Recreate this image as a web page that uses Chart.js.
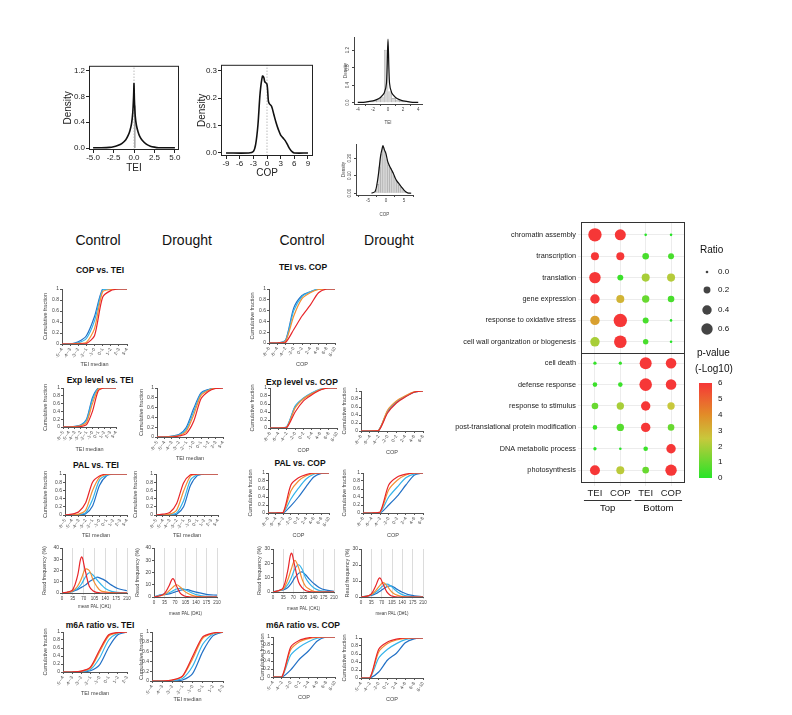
<!DOCTYPE html>
<html>
<head>
<meta charset="utf-8">
<script src="https://cdn.jsdelivr.net/npm/chart.js@4.4.1/dist/chart.umd.min.js"></script>
<style>
body { margin:0; background:#fff; width:792px; height:715px; position:relative; overflow:hidden; font-family:"Liberation Sans", Arial, sans-serif; }
.lbl { position:absolute; white-space:nowrap; transform:translate(-50%,-50%); color:#111; }
.hd { font-size:14px; }
.tt { font-size:8.5px; font-weight:bold; }
</style>
</head>
<body>
<script>
// ---- data ----

// density panels
const teiDensX = [-5, -4, -3, -2.5, -2, -1.5, -1, -0.7, -0.5, -0.3, -0.15, -0.05, 0, 0.05, 0.15, 0.3, 0.5, 0.7, 1, 1.5, 2, 2.5, 3, 4, 5];
const teiDensY = [0.005, 0.006, 0.01, 0.02, 0.04, 0.07, 0.13, 0.2, 0.27, 0.38, 0.55, 0.8, 1.0, 0.75, 0.5, 0.35, 0.25, 0.18, 0.12, 0.06, 0.03, 0.015, 0.006, 0.005, 0.005];
const teiPeakBin = [0, 0.22];
const teiPeakHeight = 0.66;

const copDensX = [-9, -4, -3, -2.5, -2, -1.5, -1, -0.7, -0.5, 0, 0.3, 0.5, 1, 1.5, 2, 2.5, 3, 3.5, 4, 4.5, 5, 5.5, 6, 9];
const copDensY = [0, 0, 0.005, 0.03, 0.1, 0.22, 0.28, 0.275, 0.26, 0.25, 0.19, 0.18, 0.17, 0.14, 0.11, 0.085, 0.065, 0.055, 0.045, 0.03, 0.015, 0.005, 0, 0];

// small histograms
const teiHistMid = [-3.75, -3.25, -2.75, -2.25, -1.75, -1.25, -0.75, -0.25, 0.25, 0.75, 1.25, 1.75, 2.25, 2.75, 3.25, 3.75];
const teiHistVal = [0.005, 0.01, 0.015, 0.02, 0.04, 0.07, 0.13, 1.2, 0.25, 0.1, 0.06, 0.035, 0.02, 0.012, 0.008, 0.004];
const teiHistLineX = [-4, -3, -2, -1.5, -1, -0.5, -0.2, 0, 0.2, 0.5, 1, 1.5, 2, 3, 4];
const teiHistLineY = [0.005, 0.015, 0.04, 0.07, 0.12, 0.22, 0.45, 1.45, 0.45, 0.22, 0.12, 0.07, 0.04, 0.015, 0.005];

const copHistMid = [-2.75, -2.25, -1.75, -1.25, -0.75, -0.25, 0.25, 0.75, 1.25, 1.75, 2.25, 2.75, 3.25, 3.75, 4.25, 4.75, 5.25, 5.75];
const copHistVal = [0.02, 0.05, 0.15, 0.22, 0.26, 0.24, 0.19, 0.16, 0.14, 0.12, 0.095, 0.075, 0.06, 0.045, 0.032, 0.02, 0.01, 0.005];
const copHistLineX = [-4, -3, -2.5, -2, -1.5, -1, -0.8, -0.4, 0, 0.5, 1, 1.5, 2, 2.5, 3, 3.5, 4, 4.5, 5, 5.5, 6, 7];
const copHistLineY = [0, 0.01, 0.05, 0.12, 0.21, 0.26, 0.27, 0.245, 0.225, 0.18, 0.155, 0.135, 0.115, 0.09, 0.07, 0.057, 0.044, 0.03, 0.018, 0.008, 0.002, 0];

// cumulative fraction bins
const teiBins8 = ['-5~-4', '-4~-3', '-3~-2', '-2~-1', '-1~0', '0~1', '1~2', '2~3'];
const teiBins9 = ['-5~-4', '-4~-3', '-3~-2', '-2~-1', '-1~0', '0~1', '1~2', '2~3', '3~4'];
const teiBins10 = ['-6~-5', '-5~-4', '-4~-3', '-3~-2', '-2~-1', '-1~0', '0~1', '1~2', '2~3', '3~4'];
const copBins8 = ['-8~-6', '-6~-4', '-4~-2', '-2~0', '0~2', '2~4', '4~6', '6~8'];
const copBins9 = ['-8~-6', '-6~-4', '-4~-2', '-2~0', '0~2', '2~4', '4~6', '6~8', '8~10'];
const copBinsM6A = ['-5~-4', '-4~-2', '-2~0', '0~2', '2~4', '4~6', '6~8', '8~10'];

// series order: red, orange, light blue, blue
const copVsTeiCtrl = [
  [0, 0, 0, 0.01, 0.15, 0.85, 0.97, 1, 1],
  [0, 0, 0.01, 0.03, 0.28, 0.95, 0.99, 1, 1],
  [0, 0, 0.02, 0.1, 0.42, 0.98, 1, 1, 1],
  [0, 0, 0.04, 0.15, 0.5, 1, 1, 1, 1]
];
const teiVsCopCtrl = [
  [0, 0, 0.01, 0.25, 0.5, 0.7, 0.93, 1, 1],
  [0, 0, 0.03, 0.5, 0.82, 0.93, 0.99, 1, 1],
  [0, 0, 0.04, 0.6, 0.86, 0.95, 1, 1, 1],
  [0, 0, 0.05, 0.65, 0.88, 0.95, 1, 1, 1]
];
const expTeiCtrl = [
  [0, 0, 0, 0.01, 0.06, 0.4, 0.93, 1, 1, 1],
  [0, 0, 0.01, 0.03, 0.12, 0.6, 0.97, 1, 1, 1],
  [0, 0, 0.01, 0.04, 0.17, 0.7, 0.99, 1, 1, 1],
  [0, 0, 0.02, 0.05, 0.2, 0.75, 1, 1, 1, 1]
];
const expTeiDrought = [
  [0, 0, 0, 0.02, 0.07, 0.32, 0.78, 0.93, 0.99, 1],
  [0, 0, 0.01, 0.03, 0.12, 0.45, 0.85, 0.95, 1, 1],
  [0, 0, 0.01, 0.04, 0.16, 0.52, 0.88, 0.96, 1, 1],
  [0, 0, 0.02, 0.05, 0.2, 0.58, 0.9, 0.97, 1, 1]
];
const expCopCtrl = [
  [0, 0, 0.01, 0.4, 0.68, 0.83, 0.95, 1, 1],
  [0, 0, 0.02, 0.5, 0.73, 0.86, 0.96, 1, 1],
  [0, 0, 0.03, 0.55, 0.75, 0.88, 0.97, 1, 1],
  [0, 0, 0.03, 0.53, 0.74, 0.87, 0.96, 1, 1]
];
const expCopDrought = [
  [0, 0, 0.01, 0.45, 0.7, 0.85, 0.97, 1],
  [0, 0, 0.02, 0.52, 0.75, 0.88, 0.98, 1],
  [0, 0, 0.02, 0.5, 0.73, 0.87, 0.97, 1],
  [0, 0, 0.02, 0.48, 0.72, 0.86, 0.97, 1]
];
const palTeiCtrl = [
  [0, 0.02, 0.08, 0.3, 0.8, 0.95, 1, 1, 1, 1],
  [0, 0, 0.02, 0.12, 0.6, 0.92, 0.99, 1, 1, 1],
  [0, 0, 0.01, 0.06, 0.38, 0.85, 0.97, 1, 1, 1],
  [0, 0, 0, 0.03, 0.22, 0.72, 0.95, 1, 1, 1]
];
const palTeiDrought = [
  [0, 0.02, 0.06, 0.28, 0.78, 0.98, 1, 1, 1, 1],
  [0, 0, 0.02, 0.12, 0.58, 0.95, 1, 1, 1, 1],
  [0, 0, 0.01, 0.05, 0.35, 0.85, 0.98, 1, 1, 1],
  [0, 0, 0, 0.02, 0.2, 0.72, 0.96, 1, 1, 1]
];
const palCopCtrl = [
  [0, 0, 0.02, 0.7, 0.88, 0.96, 1, 1, 1],
  [0, 0, 0.01, 0.55, 0.8, 0.93, 0.99, 1, 1],
  [0, 0, 0.01, 0.35, 0.62, 0.85, 0.97, 1, 1],
  [0, 0, 0, 0.18, 0.4, 0.66, 0.9, 0.99, 1]
];
const palCopDrought = [
  [0, 0, 0.03, 0.7, 0.9, 0.97, 1, 1],
  [0, 0, 0.02, 0.58, 0.82, 0.95, 1, 1],
  [0, 0, 0.01, 0.4, 0.65, 0.88, 0.98, 1],
  [0, 0, 0, 0.2, 0.42, 0.7, 0.95, 1]
];
const m6aTeiCtrl = [
  [0, 0, 0.02, 0.12, 0.55, 0.93, 0.99, 1],
  [0, 0, 0.02, 0.1, 0.5, 0.9, 0.98, 1],
  [0, 0, 0.01, 0.06, 0.35, 0.8, 0.97, 1],
  [0, 0, 0, 0.03, 0.18, 0.62, 0.93, 1]
];
const m6aTeiDrought = [
  [0, 0, 0.02, 0.1, 0.5, 0.9, 0.98, 1],
  [0, 0, 0.02, 0.09, 0.45, 0.87, 0.97, 1],
  [0, 0, 0.01, 0.05, 0.3, 0.75, 0.96, 1],
  [0, 0, 0, 0.02, 0.15, 0.6, 0.92, 1]
];
const m6aCopCtrl = [
  [0, 0, 0.75, 0.92, 0.98, 1, 1, 1],
  [0, 0, 0.68, 0.88, 0.96, 0.99, 1, 1],
  [0, 0, 0.55, 0.75, 0.88, 0.97, 1, 1],
  [0, 0, 0.18, 0.45, 0.65, 0.9, 1, 1]
];
const m6aCopDrought = [
  [0, 0, 0.72, 0.9, 0.97, 1, 1, 1],
  [0, 0, 0.65, 0.86, 0.95, 0.99, 1, 1],
  [0, 0, 0.5, 0.72, 0.86, 0.96, 1, 1],
  [0, 0, 0.15, 0.45, 0.62, 0.88, 0.98, 1]
];

// read frequency vs mean PAL
const palGrid = [0, 20, 35, 50, 63, 75, 88, 100, 112, 125, 140, 160, 180, 210];
const readTeiCtrl = [
  [0, 1, 3, 15, 32, 20, 6, 2, 0.5, 0, 0, 0, 0, 0],
  [0, 0.5, 2, 6, 13, 21, 20, 12, 6, 2, 1, 0.3, 0, 0],
  [0, 0.5, 2, 4, 8, 14, 18, 16, 12, 8, 4, 1.5, 0.5, 0],
  [0, 0.5, 1.5, 3, 5, 7, 10, 12, 14, 13, 11, 7, 4, 2]
];
const readTeiDrought = [
  [0, 1, 3, 9, 15, 9, 3, 1, 0.3, 0, 0, 0, 0, 0],
  [0, 1, 2, 5, 8, 10, 8, 5, 3, 1.5, 0.5, 0.2, 0, 0],
  [0, 1.5, 2.5, 3.5, 5, 6.5, 7, 6.5, 5, 3.5, 2, 1, 0.5, 0],
  [0, 1.5, 2, 2.5, 3.5, 4.5, 5.5, 6, 6, 5, 4, 3, 2, 1.5]
];
const readCopCtrl = [
  [0, 1, 3, 14, 27, 18, 7, 3, 1, 0.3, 0, 0, 0, 0],
  [0, 1, 2, 8, 16, 22, 17, 9, 4, 2, 0.5, 0, 0, 0],
  [0, 1, 2, 5, 10, 16, 19, 16, 10, 6, 3, 1, 0.5, 0],
  [0, 1, 1.5, 3, 6, 10, 13, 14, 12, 9, 6, 3, 1.5, 0.5]
];
const readCopDrought = [
  [0, 0.5, 2, 7, 12, 8, 3, 1, 0.3, 0, 0, 0, 0, 0],
  [0, 0.5, 1.5, 4, 7, 9, 7, 4, 2, 1, 0.3, 0, 0, 0],
  [0, 0.5, 1.5, 3, 5, 7, 8, 7, 5, 3, 1.5, 0.5, 0.2, 0],
  [0, 0.5, 1, 2, 3.5, 5, 6.5, 7, 6, 4.5, 3, 1.5, 0.8, 0.3]
];

// GO enrichment dot plot
const goTerms = ['chromatin assembly', 'transcription', 'translation', 'gene expression', 'response to oxidative stress',
  'cell wall organization or biogenesis', 'cell death', 'defense response', 'response to stimulus',
  'post-translational protein modification', 'DNA metabolic process', 'photosynthesis'];
const goColumns = ['TEI', 'COP', 'TEI', 'COP'];
const ratioTopTEI = [0.84, 0.28, 0.60, 0.40, 0.40, 0.40, 0.02, 0.07, 0.18, 0.07, 0.02, 0.45];
const ratioTopCOP = [0.56, 0.28, 0.14, 0.28, 0.84, 0.74, 0.02, 0.07, 0.23, 0.23, 0.00, 0.28];
const ratioBotTEI = [0.00, 0.18, 0.28, 0.23, 0.14, 0.11, 0.67, 0.74, 0.40, 0.40, 0.07, 0.18];
const ratioBotCOP = [0.00, 0.14, 0.28, 0.18, 0.00, 0.00, 0.51, 0.51, 0.23, 0.18, 0.40, 0.60];
const pTopTEI = [6, 6, 6, 6, 3.5, 2, 0.2, 0.3, 1, 0.3, 0, 6];
const pTopCOP = [6, 6, 0.3, 3, 6, 6, 0.2, 0.3, 2, 0.7, 0, 2.3];
const pBotTEI = [0, 0.5, 2, 1, 0.5, 0.5, 6, 6, 6, 6, 0.3, 1];
const pBotCOP = [0, 0.5, 2.2, 0.5, 0, 0, 6, 6, 2.5, 1, 6, 6];
const ratioLegend = [0.0, 0.2, 0.4, 0.6];
const pLegend = [6, 5, 4, 3, 2, 1, 0];

// ---- styling ----
Chart.defaults.animation = false;
Chart.defaults.font.family = '"Liberation Sans", Arial, sans-serif';
Chart.defaults.color = '#333';
const lineColors = ['#e8262a', '#f29034', '#35b4ea', '#2371c6'];
const FONT = '"Liberation Sans", Arial, sans-serif';

function text(x, y, str, cls) {
  const d = document.createElement('div');
  d.className = 'lbl ' + cls;
  d.style.left = x + 'px';
  d.style.top = y + 'px';
  d.textContent = str;
  document.body.appendChild(d);
}

function mount(x, y, w, h) {
  const c = document.createElement('canvas');
  c.width = w; c.height = h;
  c.style.cssText = `position:absolute;left:${x}px;top:${y}px;width:${w}px;height:${h}px`;
  document.body.appendChild(c);
  return c;
}

const frame = {
  id: 'frame',
  afterDatasetsDraw(ch) {
    const a = ch.chartArea, c = ch.ctx;
    c.save();
    c.strokeStyle = '#222';
    c.lineWidth = 1;
    c.strokeRect(a.left + 0.5, a.top + 0.5, a.width - 1, a.height - 1);
    c.restore();
  }
};

const rotY = {
  id: 'rotY',
  afterDraw(ch) {
    const s = ch.scales.y, c = ch.ctx;
    c.save();
    c.font = '4.5px ' + FONT;
    c.fillStyle = '#444';
    c.textAlign = 'center';
    s.ticks.forEach((tk, i) => {
      c.save();
      c.translate(s.right - 5, s.getPixelForTick(i));
      c.rotate(-Math.PI / 2);
      c.fillText(tk.label, 0, 0);
      c.restore();
    });
    c.restore();
  }
};

function pairs(xs, ys) { return xs.map((x, i) => ({ x, y: ys[i] })); }

// plot box: l, t, r, b; ytx = y-title centre x; xty = x-title centre y
function cumPanel(l, t, r, b, ytx, xty, labels, series, xTitle) {
  const yw = Math.round(l - ytx + 3.5), xh = Math.round(xty - b + 3.5), pt = 6, pr = 8;
  const cv = mount(l - yw, t - pt, r - l + yw + pr, b - t + pt + xh);
  new Chart(cv, {
    type: 'line',
    data: {
      labels: labels,
      datasets: series.map((s, i) => ({ data: s, borderColor: lineColors[i], borderWidth: 1.2, pointRadius: 0, tension: 0.25, fill: false }))
    },
    options: {
      responsive: false,
      layout: { padding: { left: 0, top: pt, right: pr, bottom: 0 } },
      plugins: { legend: { display: false }, tooltip: { enabled: false } },
      scales: {
        x: {
          afterFit: s => { s.height = xh; },
          grid: { drawOnChartArea: false, tickLength: 2, color: '#555' },
          border: { color: '#555' },
          ticks: { font: { size: 4.5 }, autoSkip: false, minRotation: 60, maxRotation: 60, padding: 1, color: '#444' },
          title: { display: true, text: xTitle, font: { size: 5.5 }, padding: 0, color: '#444' }
        },
        y: {
          min: 0, max: 1,
          afterFit: s => { s.width = yw; },
          grid: { drawOnChartArea: false, tickLength: 2, color: '#555' },
          border: { color: '#555' },
          ticks: { stepSize: 0.2, autoSkip: false, font: { size: 5 }, padding: 1, color: '#444', callback: v => String(Math.round(v * 10) / 10) },
          title: { display: true, text: 'Cumulative fraction', font: { size: 5.5 }, padding: 0, color: '#444' }
        }
      }
    }
  });
}

function readPanel(l, t, r, b, ytx, xty, ymax, series, xTitle) {
  const yw = Math.round(l - ytx + 3.5), xh = Math.round(xty - b + 3.5), pt = 6, pr = 8;
  const cv = mount(l - yw, t - pt, r - l + yw + pr, b - t + pt + xh);
  new Chart(cv, {
    type: 'line',
    data: {
      datasets: series.map((s, i) => ({ data: pairs(palGrid, s), borderColor: lineColors[i], borderWidth: 1.2, pointRadius: 0, tension: 0.4, fill: false }))
    },
    options: {
      responsive: false,
      layout: { padding: { left: 0, top: pt, right: pr, bottom: 0 } },
      plugins: { legend: { display: false }, tooltip: { enabled: false } },
      scales: {
        x: {
          type: 'linear', min: 0, max: 210,
          afterFit: s => { s.height = xh; },
          grid: { color: '#dcdcdc', tickLength: 2 },
          border: { color: '#555' },
          ticks: { stepSize: 35, autoSkip: false, font: { size: 4.5 }, maxRotation: 0, padding: 1, color: '#444' },
          title: { display: true, text: xTitle, font: { size: 4.5 }, padding: 0, color: '#444' }
        },
        y: {
          min: 0, max: ymax,
          afterFit: s => { s.width = yw; },
          grid: { drawOnChartArea: false, tickLength: 2, color: '#555' },
          border: { color: '#555' },
          ticks: { stepSize: 10, autoSkip: false, font: { size: 5 }, padding: 1, color: '#444' },
          title: { display: true, text: 'Read frequency (%)', font: { size: 5.5 }, padding: 0, color: '#444' }
        }
      }
    }
  });
}

// ---- top density plots ----
function densPanel(l, t, r, b, yw, xh, xr, yr, xt, yt, fmt, datasets, xTitle) {
  const pt = 4, pr = 10;
  const cv = mount(l - yw, t - pt, r - l + yw + pr, b - t + pt + xh);
  new Chart(cv, {
    type: 'line',
    data: { datasets: datasets },
    options: {
      responsive: false,
      layout: { padding: { left: 0, top: pt, right: pr, bottom: 0 } },
      plugins: { legend: { display: false }, tooltip: { enabled: false } },
      scales: {
        x: {
          type: 'linear', min: xr[0], max: xr[1],
          afterFit: s => { s.height = xh; },
          afterBuildTicks: s => { s.ticks = xt.map(v => ({ value: v })); },
          grid: { drawOnChartArea: false, tickLength: 3, color: '#222' },
          border: { display: false },
          ticks: { font: { size: 8 }, maxRotation: 0, padding: 0, color: '#222', callback: v => fmt[0](v) },
          title: { display: true, text: xTitle, font: { size: 10 }, padding: 0, color: '#222' }
        },
        y: {
          min: yr[0], max: yr[1],
          afterFit: s => { s.width = yw; },
          afterBuildTicks: s => { s.ticks = yt.map(v => ({ value: v })); },
          grid: { drawOnChartArea: false, tickLength: 3, color: '#222' },
          border: { display: false },
          ticks: { font: { size: 8 }, padding: 1, color: '#222', callback: v => fmt[1](v) },
          title: { display: true, text: 'Density', font: { size: 10 }, padding: 0, color: '#222' }
        }
      }
    },
    plugins: [frame]
  });
}

const zeroLine = (y0, y1) => ({ data: [{ x: 0, y: y0 }, { x: 0, y: y1 }], borderColor: '#aaa', borderWidth: 0.8, borderDash: [1.5, 1.5], pointRadius: 0 });

densPanel(89, 64, 179, 150, 27, 24, [-5.5, 5.5], [-0.03, 1.276], [-5, -2.5, 0, 2.5, 5], [0, 0.4, 0.8, 1.2],
  [v => v.toFixed(1), v => v.toFixed(1)],
  [
    { data: pairs(teiDensX, teiDensY), borderColor: '#111', borderWidth: 1.6, pointRadius: 0, tension: 0.2 },
    { data: [{ x: teiPeakBin[0], y: 0 }, { x: teiPeakBin[0], y: teiPeakHeight }, { x: teiPeakBin[1], y: teiPeakHeight }, { x: teiPeakBin[1], y: 0 }],
      borderWidth: 0, backgroundColor: '#a8a8a8', fill: 'origin', pointRadius: 0 },
    zeroLine(-0.03, 1.276)
  ], 'TEI');

densPanel(221, 63, 313, 156, 25, 23, [-10.1, 10.1], [-0.011, 0.321], [-9, -6, -3, 0, 3, 6, 9], [0, 0.1, 0.2, 0.3],
  [v => String(v), v => v.toFixed(1)],
  [
    { data: pairs(copDensX, copDensY), borderColor: '#111', borderWidth: 1.6, pointRadius: 0, tension: 0.3 },
    zeroLine(-0.011, 0.321)
  ], 'COP');

// ---- small histograms (R style) ----
function histPanel(l, t, r, b, yw, xh, xr, yr, xt, yt, fmt, mids, vals, lx, ly, xTitle) {
  const pt = 3, pr = 6;
  const cv = mount(l - yw, t - pt, r - l + yw + pr, b - t + pt + xh);
  new Chart(cv, {
    data: {
      datasets: [
        { type: 'line', data: pairs(lx, ly), borderColor: '#111', borderWidth: 1.2, pointRadius: 0, tension: 0.3 },
        { type: 'bar', data: pairs(mids, vals), backgroundColor: '#d6d6d6', borderColor: '#9a9a9a', borderWidth: 0.4,
          barPercentage: 1, categoryPercentage: 1 }
      ]
    },
    options: {
      responsive: false,
      layout: { padding: { left: 0, top: pt, right: pr, bottom: 0 } },
      plugins: { legend: { display: false }, tooltip: { enabled: false } },
      scales: {
        x: {
          type: 'linear', min: xr[0], max: xr[1], offset: false,
          afterFit: s => { s.height = xh; },
          afterBuildTicks: s => { s.ticks = xt.map(v => ({ value: v })); },
          grid: { drawOnChartArea: false, tickLength: 2, color: '#444' },
          border: { color: '#444' },
          ticks: { font: { size: 4.5 }, maxRotation: 0, padding: 1, color: '#444', callback: v => String(v) },
          title: { display: true, text: xTitle, font: { size: 4.5 }, padding: 0, color: '#444' }
        },
        y: {
          min: yr[0], max: yr[1],
          afterFit: s => { s.width = yw; },
          afterBuildTicks: s => { s.ticks = yt.map(v => ({ value: v })); },
          grid: { drawOnChartArea: false, tickLength: 2, color: '#444' },
          border: { color: '#444' },
          ticks: { display: false, callback: v => fmt(v) },
          title: { display: true, text: 'Density', font: { size: 4.5 }, padding: 0, color: '#444' }
        }
      }
    },
    plugins: [rotY]
  });
}

histPanel(354, 37, 422, 104, 11, 21, [-4.5, 4.5], [-0.03, 1.5], [-4, -2, 0, 2, 4], [0, 0.4, 0.8, 1.2],
  v => v.toFixed(1), teiHistMid, teiHistVal, teiHistLineX, teiHistLineY, 'TEI');
histPanel(356, 144, 413, 195, 15, 22, [-8.3, 7.5], [-0.01, 0.28], [-5, 0, 5], [0, 0.1, 0.2],
  v => v.toFixed(2), copHistMid, copHistVal, copHistLineX, copHistLineY, 'COP');

// ---- headers and titles ----
text(98, 240, 'Control', 'hd');
text(187, 240, 'Drought', 'hd');
text(302, 240, 'Control', 'hd');
text(389, 240, 'Drought', 'hd');
text(100, 270, 'COP vs. TEI', 'tt');
text(303, 267, 'TEI vs. COP', 'tt');
text(100, 380, 'Exp level vs. TEI', 'tt');
text(302, 382, 'Exp level vs. COP', 'tt');
text(96, 465, 'PAL vs. TEI', 'tt');
text(300, 463, 'PAL vs. COP', 'tt');
text(100, 625, 'm6A ratio vs. TEI', 'tt');
text(303, 625, 'm6A ratio vs. COP', 'tt');

// ---- cumulative fraction panels ----
cumPanel(62, 289, 127, 344, 46, 364, teiBins9, copVsTeiCtrl, 'TEI median');
cumPanel(269, 289, 335, 343, 253, 364, copBins9, teiVsCopCtrl, 'COP');

cumPanel(63, 388, 116, 427, 46, 449, teiBins10, expTeiCtrl, 'TEI median');
cumPanel(157, 388, 223, 437, 142, 458, teiBins10, expTeiDrought, 'TEI median');
cumPanel(270, 388, 337, 428, 253, 450, copBins9, expCopCtrl, 'COP');
cumPanel(361, 391, 423, 431, 345, 452, copBins8, expCopDrought, 'COP');

cumPanel(65, 474, 127, 515, 46, 535, teiBins10, palTeiCtrl, 'TEI median');
cumPanel(156, 474, 218, 515, 136, 535, teiBins10, palTeiDrought, 'TEI median');
cumPanel(268, 473, 329, 513, 251, 535, copBins9, palCopCtrl, 'COP');
cumPanel(363, 473, 423, 513, 345, 535, copBins8, palCopDrought, 'COP');

readPanel(62, 548, 127, 593, 45, 605, 40, readTeiCtrl, 'mean PAL (C#1)');
readPanel(154, 548, 217, 597, 138, 612, 40, readTeiDrought, 'mean PAL (D#1)');
readPanel(273, 549, 334, 592, 260, 607, 30, readCopCtrl, 'mean PAL (C#1)');
readPanel(361, 549, 423, 597, 348, 612, 30, readCopDrought, 'mean PAL (D#1)');

cumPanel(63, 632, 127, 672, 46, 693, teiBins8, m6aTeiCtrl, 'TEI median');
cumPanel(152, 632, 223, 681, 142, 699, teiBins8, m6aTeiDrought, 'TEI median');
cumPanel(273, 637, 335, 677, 263, 697, copBinsM6A, m6aCopCtrl, 'COP');
cumPanel(361, 638, 423, 678, 345, 699, copBinsM6A, m6aCopDrought, 'COP');

// ---- GO dot plot ----
const pStops = [[0, [40, 228, 40]], [2.5, [200, 200, 60]], [4, [226, 140, 40]], [6, [246, 55, 55]]];
function pColor(p) {
  for (let i = 1; i < pStops.length; i++) {
    const [p0, c0] = pStops[i - 1], [p1, c1] = pStops[i];
    if (p <= p1) {
      const f = (p - p0) / (p1 - p0);
      return `rgb(${c0.map((v, k) => Math.round(v + (c1[k] - v) * f)).join(',')})`;
    }
  }
  return 'rgb(246,55,55)';
}
const ratioRadius = r => Math.sqrt(1.69 + 51.3 * r);

const goRatios = [ratioTopTEI, ratioTopCOP, ratioBotTEI, ratioBotCOP];
const goPvals = [pTopTEI, pTopCOP, pBotTEI, pBotCOP];

const dotLeft = 455, dotTop = 215;
const dotExtras = {
  id: 'dotExtras',
  afterDatasetsDraw(ch) {
    const c = ch.ctx, a = ch.chartArea, sx = ch.scales.x, sy = ch.scales.y;
    const ox = dotLeft, oy = dotTop;
    c.save();
    c.strokeStyle = '#333';
    c.lineWidth = 1;
    c.strokeRect(a.left + 0.5, a.top + 0.5, a.width - 1, a.height - 1);
    const yd = Math.round(sy.getPixelForValue(6.5)) + 0.5;
    c.beginPath(); c.moveTo(a.left, yd); c.lineTo(a.right, yd); c.stroke();

    // group labels under the columns
    c.fillStyle = '#111';
    c.font = '9.5px ' + FONT;
    c.textAlign = 'center';
    c.textBaseline = 'middle';
    [['Top', 1, 2], ['Bottom', 3, 4]].forEach(([name, c1, c2]) => {
      const x0 = sx.getPixelForValue(c1) - 11, x1 = sx.getPixelForValue(c2) + 11;
      c.beginPath(); c.moveTo(x0, 500 - oy + 0.5); c.lineTo(x1, 500 - oy + 0.5); c.stroke();
      c.fillText(name, (x0 + x1) / 2, 508 - oy);
    });

    // ratio legend
    c.textAlign = 'left';
    c.font = '10px ' + FONT;
    c.fillText('Ratio', 700 - ox, 250 - oy);
    const ly = [272, 290, 310, 329];
    c.font = '8px ' + FONT;
    ratioLegend.forEach((v, i) => {
      c.fillStyle = '#444';
      c.beginPath(); c.arc(707 - ox, ly[i] - oy, ratioRadius(v), 0, Math.PI * 2); c.fill();
      c.fillStyle = '#111';
      c.fillText(v.toFixed(1), 718 - ox, ly[i] - oy);
    });

    // p-value colour bar
    c.font = '10px ' + FONT;
    c.fillText('p-value', 697 - ox, 353 - oy);
    c.fillText('(-Log10)', 695 - ox, 369 - oy);
    const top = 383 - oy, bot = 478 - oy, bx = 699 - ox;
    const g = c.createLinearGradient(0, bot, 0, top);
    for (let p = 0; p <= 6; p += 0.5) g.addColorStop(p / 6, pColor(p));
    c.fillStyle = g;
    c.fillRect(bx, top, 13, bot - top);
    c.fillStyle = '#111';
    c.font = '8px ' + FONT;
    pLegend.forEach(v => {
      c.fillText(String(v), 718 - ox, bot - (bot - top) * v / 6);
    });
    c.restore();
  }
};

const dotCanvas = mount(dotLeft, dotTop, 792 - dotLeft, 305);
new Chart(dotCanvas, {
  type: 'bubble',
  data: {
    datasets: goColumns.map((col, ci) => ({
      data: goTerms.map((term, ri) => ({ x: ci + 1, y: ri + 1, r: ratioRadius(goRatios[ci][ri]) })),
      backgroundColor: goPvals[ci].map(pColor),
      borderWidth: 0
    }))
  },
  options: {
    responsive: false,
    layout: { padding: { left: 0, top: 7, right: 107, bottom: 0 } },
    plugins: { legend: { display: false }, tooltip: { enabled: false } },
    scales: {
      x: {
        type: 'linear', min: 0.45, max: 4.55,
        afterFit: s => { s.height = 37; },
        afterBuildTicks: s => { s.ticks = goColumns.map((c, i) => ({ value: i + 1 })); },
        grid: { color: '#ececec', tickLength: 3 },
        border: { display: false },
        ticks: { font: { size: 9.5 }, color: '#222', padding: 2, maxRotation: 0, callback: v => goColumns[v - 1] }
      },
      y: {
        type: 'linear', min: 0.4, max: 12.6, reverse: true,
        afterFit: s => { s.width = 581 - dotLeft; },
        afterBuildTicks: s => { s.ticks = goTerms.map((t, i) => ({ value: i + 1 })); },
        grid: { color: '#ececec', tickLength: 3 },
        border: { display: false },
        ticks: { font: { size: 7.3 }, color: '#222', padding: 2, callback: v => goTerms[v - 1] }
      }
    }
  },
  plugins: [dotExtras]
});
</script>
</body>
</html>
